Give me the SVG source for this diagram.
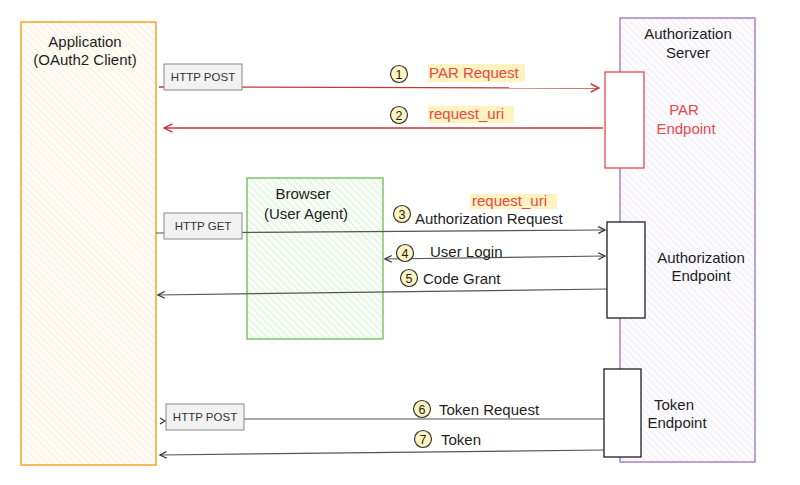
<svg xmlns="http://www.w3.org/2000/svg" width="800" height="485" viewBox="0 0 800 485">
<style>
text{font-family:"Liberation Sans","DejaVu Sans",sans-serif;font-size:15px;fill:#1e1e1e}
.c{text-anchor:middle}
.red{fill:#e8484a}
.small{font-size:11.5px;fill:#333}
.tag{fill:#f2f2f2;stroke:#888;stroke-width:1}
.num{fill:#fff3bf;stroke:#333;stroke-width:1.2}
.nt{font-size:12.5px;text-anchor:middle}
.hl{fill:#fff3bf}
.ln{fill:none;stroke:#555;stroke-width:1.2}
.lr{fill:none;stroke:#c0393b;stroke-width:1.3}
.ep{fill:#fff;stroke:#1e1e1e;stroke-width:1.3}
</style>
<defs>
<pattern id="hO" width="5" height="5" patternUnits="userSpaceOnUse" patternTransform="rotate(-45)"><rect width="5" height="5" fill="#fffbf6"/><line x1="0" y1="0" x2="0" y2="5" stroke="#fdebd6" stroke-width="1.6"/></pattern>
<pattern id="hP" width="5" height="5" patternUnits="userSpaceOnUse" patternTransform="rotate(-45)"><rect width="5" height="5" fill="#fcfbfe"/><line x1="0" y1="0" x2="0" y2="5" stroke="#e9e4f1" stroke-width="1.2"/></pattern>
<pattern id="hG" width="5" height="5" patternUnits="userSpaceOnUse" patternTransform="rotate(-45)"><rect width="5" height="5" fill="#f8fcf7"/><line x1="0" y1="0" x2="0" y2="5" stroke="#dcefd6" stroke-width="1.6"/></pattern>
<marker id="aB" viewBox="0 0 10 10" refX="9" refY="5" markerWidth="7" markerHeight="7" orient="auto-start-reverse"><path d="M1,1 L9,5 L1,9" fill="none" stroke="#333" stroke-width="1.5"/></marker>
<marker id="aR" viewBox="0 0 10 10" refX="9" refY="5" markerWidth="8" markerHeight="8" orient="auto-start-reverse"><path d="M1,1 L9,5 L1,9" fill="none" stroke="#c0393b" stroke-width="1.5"/></marker>
</defs>

<g id="app">
<rect x="21" y="22" width="135" height="443" fill="url(#hO)" stroke="#f0a628" stroke-width="1.5"/>
<text x="85" y="47" class="c">Application</text>
<text x="85" y="65" class="c">(OAuth2 Client)</text>
</g>

<g id="auth-server">
<rect x="620" y="18" width="135" height="444" fill="url(#hP)" stroke="#a385c8" stroke-width="1.5"/>
<text x="688" y="39" class="c">Authorization</text>
<text x="688" y="58" class="c">Server</text>
</g>

<g id="browser">
<rect x="247" y="178" width="136" height="161" fill="url(#hG)" stroke="#7fc36a" stroke-width="1.5"/>
<text x="303" y="199" class="c">Browser</text>
<text x="306" y="219" class="c">(User Agent)</text>
</g>

<g id="connectors">
<line x1="159" y1="87" x2="599" y2="88" class="lr" marker-end="url(#aR)"/>
<line x1="603" y1="128" x2="164" y2="128" class="lr" marker-end="url(#aR)"/>
<line x1="156" y1="233" x2="605" y2="230" class="ln" marker-end="url(#aB)"/>
<line x1="385" y1="259" x2="605" y2="256" class="ln" marker-start="url(#aB)" marker-end="url(#aB)"/>
<line x1="607" y1="289" x2="158" y2="295" class="ln" marker-end="url(#aB)"/>
<line x1="604" y1="419" x2="240" y2="419" class="ln"/>
<path d="M160,418 L165,421 L160,424" fill="none" stroke="#333" stroke-width="1.2"/>
<line x1="604" y1="450" x2="160" y2="455" class="ln" marker-end="url(#aB)"/>
</g>

<g id="http-post-1">
<rect x="164" y="64" width="78" height="26" class="tag"/>
<text x="203" y="81" class="c small">HTTP POST</text>
</g>
<g id="http-get">
<rect x="164" y="213" width="78" height="26" class="tag"/>
<text x="203" y="230" class="c small">HTTP GET</text>
</g>
<g id="http-post-2">
<rect x="166" y="404" width="78" height="26" class="tag"/>
<text x="205" y="421" class="c small">HTTP POST</text>
</g>

<g id="par-endpoint">
<rect x="605" y="72" width="39" height="96" fill="#fff" stroke="#e8484a" stroke-width="1.3"/>
<text x="684" y="115" class="c red">PAR</text>
<text x="686" y="134" class="c red">Endpoint</text>
</g>

<g id="authorization-endpoint">
<rect x="607" y="222" width="38" height="96" class="ep"/>
<text x="701" y="263" class="c">Authorization</text>
<text x="701" y="281" class="c">Endpoint</text>
</g>

<g id="token-endpoint">
<rect x="604" y="369" width="37" height="88" class="ep"/>
<text x="674" y="410" class="c">Token</text>
<text x="677" y="428" class="c">Endpoint</text>
</g>

<g id="step1">
<circle cx="399" cy="74" r="8.5" class="num"/><text x="399" y="78.5" class="nt">1</text>
<rect x="428" y="64" width="97" height="18" class="hl"/>
<text x="429" y="78" class="red">PAR Request</text>
</g>
<g id="step2">
<circle cx="399" cy="115" r="8.5" class="num"/><text x="399" y="119.5" class="nt">2</text>
<rect x="428" y="106" width="86" height="17" class="hl"/>
<text x="429" y="119" class="red">request_uri</text>
</g>
<g id="step3">
<rect x="470" y="194" width="87" height="15" class="hl"/>
<text x="472" y="206" class="red">request_uri</text>
<circle cx="402" cy="214" r="8.5" class="num"/><text x="402" y="218.5" class="nt">3</text>
<text x="415" y="224">Authorization Request</text>
</g>
<g id="step4">
<circle cx="405" cy="253" r="8.5" class="num"/><text x="405" y="257.5" class="nt">4</text>
<text x="430" y="257">User Login</text>
</g>
<g id="step5">
<circle cx="409" cy="278" r="8.5" class="num"/><text x="409" y="282.5" class="nt">5</text>
<text x="423" y="284">Code Grant</text>
</g>
<g id="step6">
<circle cx="422" cy="409" r="8.5" class="num"/><text x="422" y="413.5" class="nt">6</text>
<text x="439" y="415">Token Request</text>
</g>
<g id="step7">
<circle cx="423" cy="439" r="8.5" class="num"/><text x="423" y="443.5" class="nt">7</text>
<text x="441" y="445">Token</text>
</g>
</svg>
